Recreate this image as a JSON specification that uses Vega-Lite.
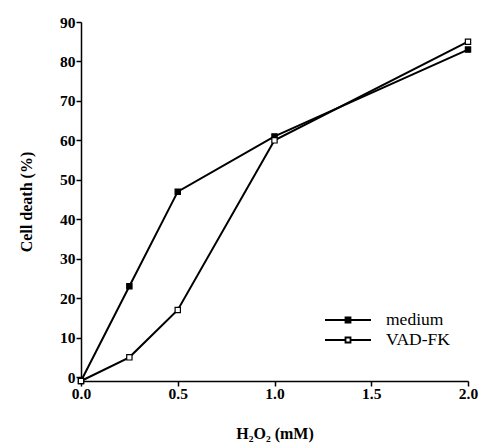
{
  "$schema": "https://vega.github.io/schema/vega-lite/v6.json",
  "autosize": "none",
  "width": 387,
  "height": 359,
  "padding": {"left": 81, "top": 22, "right": 12, "bottom": 63},
  "background": "white",
  "config": {
    "view": {"stroke": null},
    "axis": {
      "grid": false,
      "domainColor": "black",
      "domainWidth": 1.5,
      "tickColor": "black",
      "tickWidth": 1.5,
      "tickSize": 5,
      "labelFont": "Liberation Serif",
      "labelFontWeight": "bold",
      "labelFontSize": 15.5,
      "labelColor": "black",
      "labelFlush": false,
      "titleFont": "Liberation Serif",
      "titleFontWeight": "bold",
      "titleFontSize": 16,
      "titleColor": "black"
    }
  },
  "data": {
    "values": [
      {"dose": 0, "death": -1, "series": "medium"},
      {"dose": 0.25, "death": 23, "series": "medium"},
      {"dose": 0.5, "death": 47, "series": "medium"},
      {"dose": 1, "death": 61, "series": "medium"},
      {"dose": 2, "death": 83, "series": "medium"},
      {"dose": 0, "death": -1, "series": "VAD-FK"},
      {"dose": 0.25, "death": 5, "series": "VAD-FK"},
      {"dose": 0.5, "death": 17, "series": "VAD-FK"},
      {"dose": 1, "death": 60, "series": "VAD-FK"},
      {"dose": 2, "death": 85, "series": "VAD-FK"}
    ]
  },
  "encoding": {
    "x": {
      "field": "dose", "type": "quantitative",
      "scale": {"domain": [0, 2], "nice": false, "zero": false},
      "axis": {"values": [0, 0.5, 1, 1.5, 2], "format": ".1f", "title": "H₂O₂ (mM)", "titlePadding": 24, "labelPadding": 0}
    },
    "y": {
      "field": "death", "type": "quantitative",
      "scale": {"domain": [-1, 90], "nice": false, "zero": false},
      "axis": {"values": [0, 10, 20, 30, 40, 50, 60, 70, 80, 90], "title": "Cell death (%)", "titlePadding": 25, "labelPadding": 1}
    }
  },
  "layer": [
    {
      "mark": {"type": "line", "color": "black", "strokeWidth": 2},
      "encoding": {"detail": {"field": "series"}}
    },
    {
      "mark": {"type": "point", "shape": "square", "filled": true, "stroke": "black", "strokeWidth": 1.2, "size": 28, "opacity": 1},
      "encoding": {
        "fill": {
          "field": "series", "type": "nominal",
          "scale": {"domain": ["medium", "VAD-FK"], "range": ["black", "white"]},
          "legend": {
            "title": null,
            "orient": "none",
            "legendX": 256,
            "legendY": 287,
            "symbolType": "M-2.3,0H-0.25M0.25,0H2.3M-0.25,-0.25H0.25V0.25H-0.25Z",
            "symbolSize": 400,
            "symbolStrokeColor": "black",
            "symbolStrokeWidth": 1.8,
            "symbolOpacity": 1,
            "labelFont": "Liberation Serif",
            "labelFontSize": 17.5,
            "labelColor": "black",
            "labelOffset": 27,
            "rowPadding": 0,
            "padding": 0
          }
        }
      }
    }
  ]
}
